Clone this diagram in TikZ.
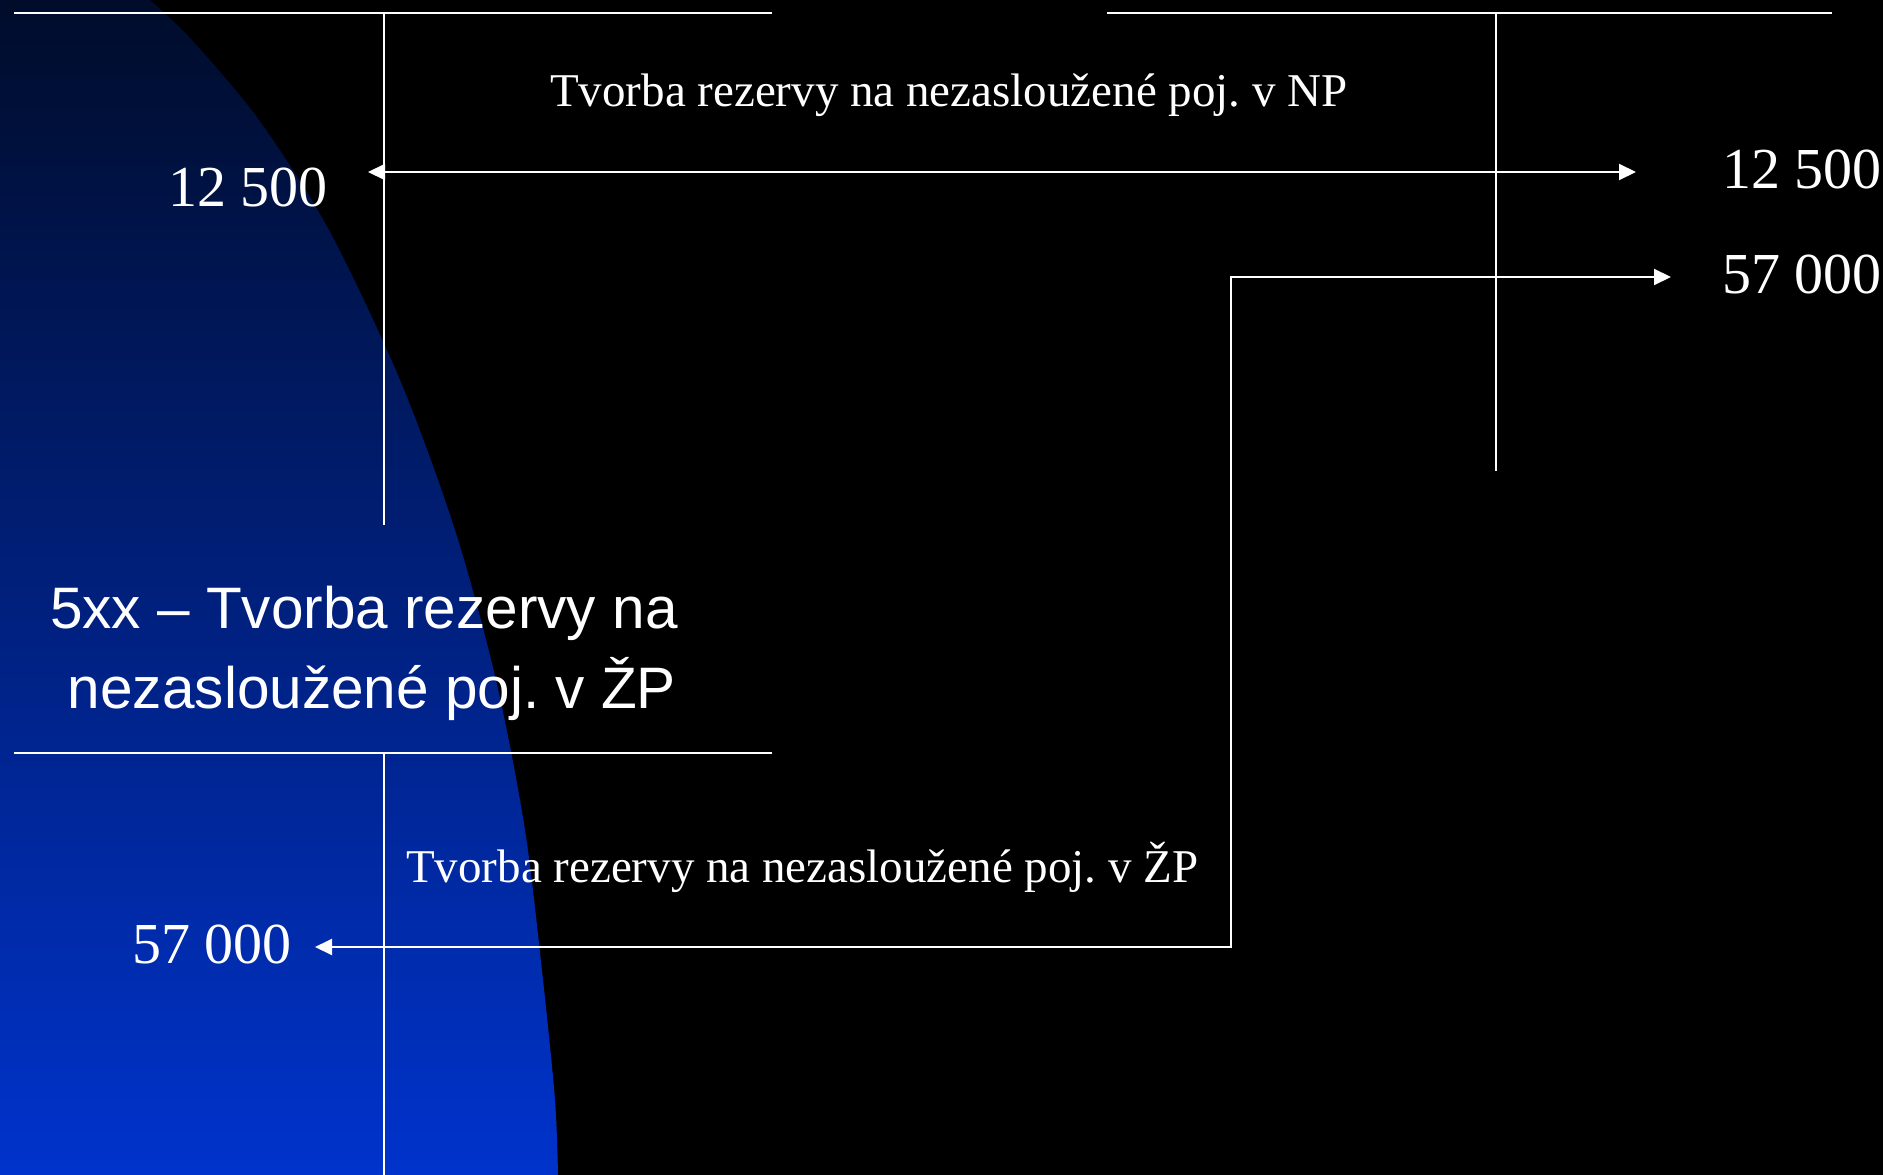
\documentclass[tikz,border=0pt]{standalone}
\usepackage{fontspec}
\setmainfont{Liberation Serif}
\newfontfamily\tnr{Liberation Serif}
\newfontfamily\arl{Liberation Sans}
\usetikzlibrary{arrows.meta}
\definecolor{bgtop}{RGB}{0,12,42}
\definecolor{bgmid}{RGB}{0,33,138}
\definecolor{bgbot}{RGB}{0,51,204}
\tikzset{
  tline/.style={draw=white, line width=2pt},
  flow/.style={draw=white, line width=2pt, {Triangle[length=17pt,width=16pt]}-{Triangle[length=17pt,width=16pt]}},
  num/.style={text=white, inner sep=0pt, anchor=base west, font=\tnr\fontsize{58}{66}\selectfont},
  lbl/.style={text=white, inner sep=0pt, anchor=base west, font=\tnr\fontsize{47}{54}\selectfont},
  ttl/.style={text=white, inner sep=0pt, align=center, font=\arl\fontsize{58.5}{80}\selectfont},
}
\begin{document}
\frenchspacing
\begin{tikzpicture}[x=1pt,y=-1pt]
\useasboundingbox (0,0) rectangle (1883,1175);
\fill[black] (0,0) rectangle (1883,1175);
% blue background shape
\shade[top color=bgtop, middle color=bgmid, bottom color=bgbot]
  (0,0) -- plot[smooth] coordinates {(150,0) (192,40) (259,120) (329,230) (400,380) (455,530) (496,680) (525,830) (543,980) (555,1100) (558,1175)}
  -- (0,1175) -- cycle;
% T-account top left
\coordinate (tl1) at (14,13);
\coordinate (tl2) at (772,13);
\coordinate (tlv1) at (384,13);
\coordinate (tlv2) at (384,525);
\draw[tline] (tl1) -- (tl2);
\draw[tline] (tlv1) -- (tlv2);
% T-account top right
\coordinate (tr1) at (1107,13);
\coordinate (tr2) at (1832,13);
\coordinate (trv1) at (1496,13);
\coordinate (trv2) at (1496,471);
\draw[tline] (tr1) -- (tr2);
\draw[tline] (trv1) -- (trv2);
% T-account bottom left
\coordinate (bl1) at (14,753);
\coordinate (bl2) at (772,753);
\coordinate (blv1) at (384,753);
\coordinate (blv2) at (384,1175);
\draw[tline] (bl1) -- (bl2);
\draw[tline] (blv1) -- (blv2);
% texts
\node[lbl] (lblNP) at (550,106) {Tvorba rezervy na nezasloužené poj. v NP};
\node[num] (nL1) at (168,206) {12 500};
\node[num] (nR1) at (1722,188) {12 500};
\node[num] (nR2) at (1722,293) {57 000};
\node[num] (nL2) at (132,963) {57 000};
\node[lbl] (lblZP) at (406,882) {Tvorba rezervy na nezasloužené poj. v ŽP};
\node[ttl] (title) at (372,653) {5xx – Tvorba rezervy na\hspace*{0.278em}\\nezasloužené poj. v ŽP};
% arrows
\coordinate (a1L) at (368,172);
\coordinate (a1R) at (1636,172);
\draw[flow] (a1L) -- (a1R);
\coordinate (a2L) at (315,947);
\coordinate (a2c1) at (1231,947);
\coordinate (a2c2) at (1231,277);
\coordinate (a2R) at (1671,277);
\draw[flow] (a2L) -- (a2c1) -- (a2c2) -- (a2R);
\end{tikzpicture}
\end{document}
